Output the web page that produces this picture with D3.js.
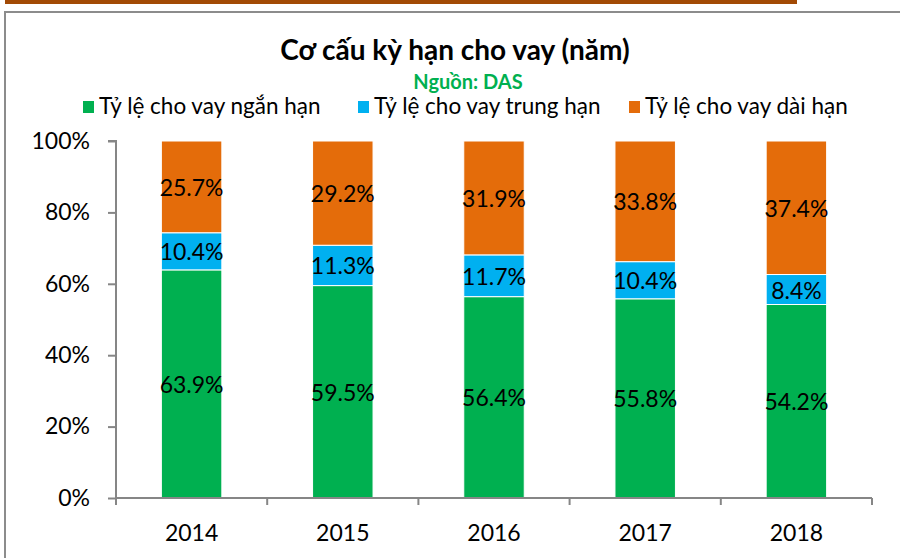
<!DOCTYPE html>
<html>
<head>
<meta charset="utf-8">
<script src="https://cdn.jsdelivr.net/npm/d3@7"></script>
<style>
  body { margin: 0; background: #fff; }
  svg { display: block; font-family: Lato, "Open Sans", sans-serif; }
</style>
</head>
<body>
<div id="chart"></div>
<script>
var years = ["2014", "2015", "2016", "2017", "2018"];
var shortTerm = [63.9, 59.5, 56.4, 55.8, 54.2];
var midTerm = [10.4, 11.3, 11.7, 10.4, 8.4];
var longTerm = [25.7, 29.2, 31.9, 33.8, 37.4];
var seriesNames = ["Tỷ lệ cho vay ngắn hạn", "Tỷ lệ cho vay trung hạn", "Tỷ lệ cho vay dài hạn"];
var yTicks = [0, 20, 40, 60, 80, 100];

(function() {
	var width = 900, height = 558;
	var margin = {top: 141, right: 28, bottom: 60, left: 116};
	var colors = ["#00b050", "#00b0f0", "#e46c0a"];

	var svg = d3.select("#chart").append("svg")
		.attr("width", width)
		.attr("height", height);

	// page decoration: orange rule and frame
	svg.append("rect").attr("x", 5).attr("y", 0).attr("width", 792).attr("height", 4).attr("fill", "#a24a05");
	svg.append("path")
		.attr("d", "M5,558V12H900")
		.attr("fill", "none")
		.attr("stroke", "#8c8c8c")
		.attr("stroke-width", 2);

	var rows = years.map(function(y, i) {
		return {year: y, s0: shortTerm[i], s1: midTerm[i], s2: longTerm[i]};
	});
	var stack = d3.stack().keys(["s0", "s1", "s2"])(rows);

	var x = d3.scaleBand().domain(years)
		.range([margin.left, width - margin.right])
		.paddingInner(0.6).paddingOuter(0.3);
	var y = d3.scaleLinear().domain([0, 100])
		.range([height - margin.bottom, margin.top]);

	// title
	svg.append("text")
		.attr("x", 455).attr("y", 60)
		.attr("text-anchor", "middle")
		.attr("font-size", 28).attr("font-weight", "bold")
		.text("Cơ cấu kỳ hạn cho vay (năm)");
	svg.append("text")
		.attr("x", 468).attr("y", 89)
		.attr("text-anchor", "middle")
		.attr("font-size", 20).attr("font-weight", "bold")
		.attr("fill", "#00b050")
		.text("Nguồn: DAS");

	// legend
	var legendX = [83, 358, 629];
	var lg = svg.selectAll(".legend").data(seriesNames).join("g")
		.attr("class", "legend")
		.attr("transform", function(d, i) { return "translate(" + legendX[i] + ",107)"; });
	lg.append("rect").attr("x", 0).attr("y", -6).attr("width", 11).attr("height", 12)
		.attr("fill", function(d, i) { return colors[i]; });
	lg.append("text").attr("x", 16).attr("y", 1)
		.attr("dominant-baseline", "middle")
		.attr("font-size", 22.5)
		.text(function(d) { return d; });

	// bars
	var layer = svg.selectAll(".layer").data(stack).join("g")
		.attr("class", "layer")
		.attr("fill", function(d, i) { return colors[i]; });
	layer.selectAll("rect").data(function(d) { return d; }).join("rect")
		.attr("x", function(d) { return x(d.data.year); })
		.attr("width", x.bandwidth())
		.attr("y", function(d) { return y(d[1]); })
		.attr("height", function(d) { return y(d[0]) - y(d[1]); })
		.attr("stroke", "#fff")
		.attr("stroke-width", 1);
	layer.selectAll("text").data(function(d) { return d; }).join("text")
		.attr("x", function(d) { return x(d.data.year) + x.bandwidth() / 2; })
		.attr("y", function(d) { return (y(d[0]) + y(d[1])) / 2; })
		.attr("text-anchor", "middle")
		.attr("dominant-baseline", "central")
		.attr("font-size", 23)
		.attr("fill", "#000")
		.text(function(d) { return (d[1] - d[0]).toFixed(1) + "%"; });

	// y axis
	var yAxis = svg.append("g")
		.attr("transform", "translate(" + margin.left + ",0)")
		.call(d3.axisLeft(y).tickValues(yTicks).tickSize(8).tickPadding(18)
			.tickFormat(function(d) { return d + "%"; }));
	yAxis.select(".domain").attr("stroke", "#868686").attr("stroke-width", 2).attr("d", "M-8," + y(100) + "H0V" + y(0));
	yAxis.selectAll(".tick line").attr("stroke", "#868686").attr("stroke-width", 2);
	yAxis.selectAll(".tick text").attr("font-size", 23).attr("font-family", "Lato, sans-serif").attr("fill", "#000");

	// x axis
	var xAxis = svg.append("g")
		.attr("transform", "translate(0," + y(0) + ")")
		.call(d3.axisBottom(x).tickSize(0).tickPadding(27));
	xAxis.select(".domain").attr("stroke", "#868686").attr("stroke-width", 2).attr("d", "M" + margin.left + ",0H" + (width - margin.right));
	xAxis.selectAll(".tick text").attr("font-size", 23).attr("font-family", "Lato, sans-serif").attr("fill", "#000");
	var step = x.step();
	var bounds = d3.range(years.length + 1).map(function(i) { return margin.left + i * step; });
	xAxis.selectAll(".sep").data(bounds).join("line")
		.attr("class", "sep")
		.attr("x1", function(d) { return d; }).attr("x2", function(d) { return d; })
		.attr("y1", 0).attr("y2", 7)
		.attr("stroke", "#868686").attr("stroke-width", 2);
})();
</script>
</body>
</html>
